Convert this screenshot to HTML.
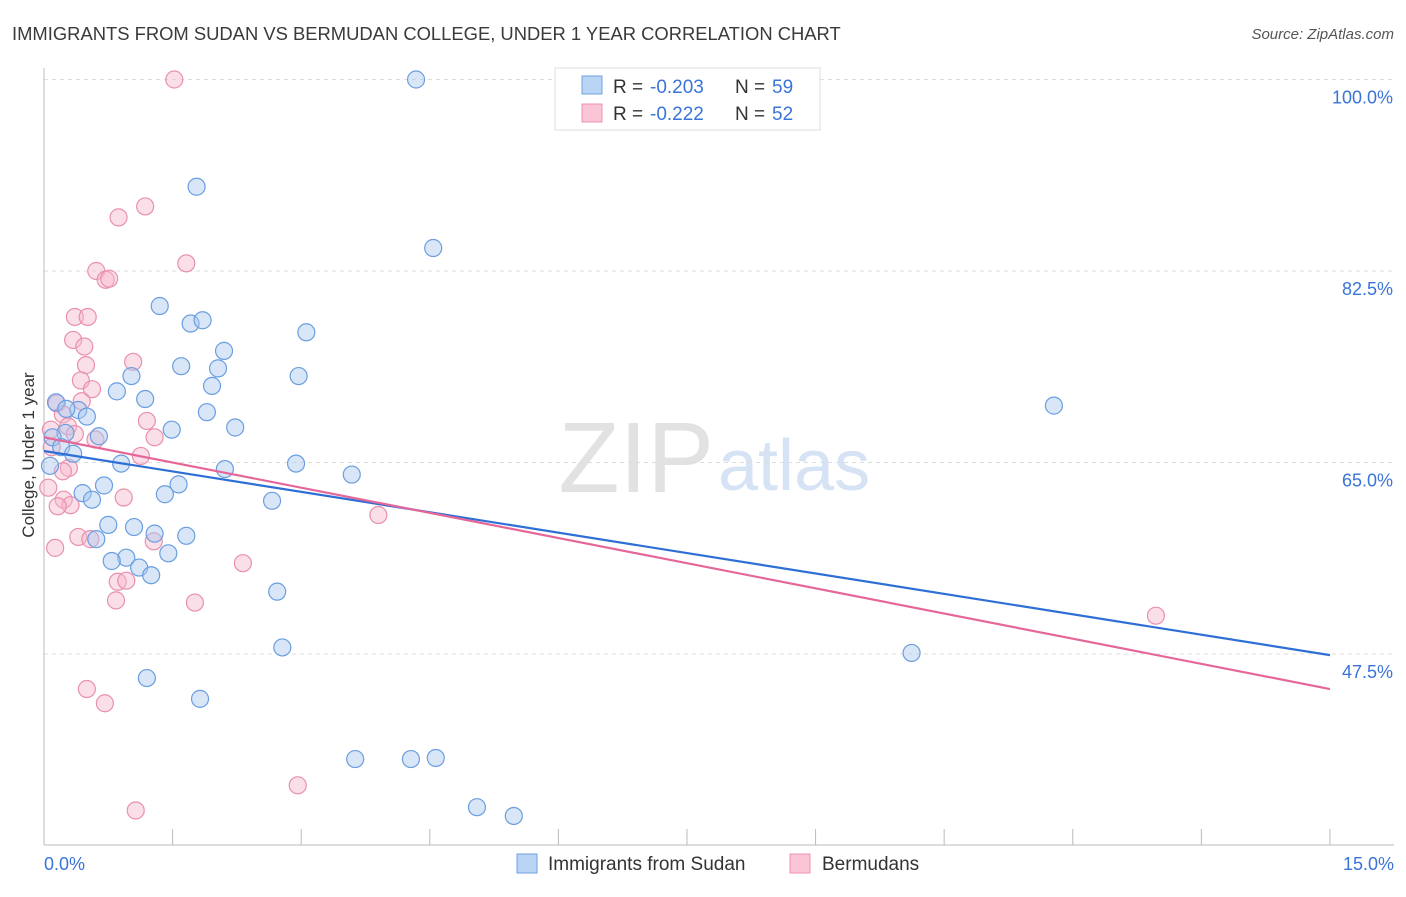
<!DOCTYPE html>
<html><head><meta charset="utf-8"><style>
body{margin:0;background:#fff;font-family:"Liberation Sans",sans-serif;}
svg text{font-family:"Liberation Sans",sans-serif;}
</style></head><body>
<svg id="chart" width="1406" height="892">
<text x="12" y="40" font-size="18.4" fill="#3a3a3a">IMMIGRANTS FROM SUDAN VS BERMUDAN COLLEGE, UNDER 1 YEAR CORRELATION CHART</text>
<text x="1394" y="39" font-size="15" fill="#555" text-anchor="end" font-style="italic">Source: ZipAtlas.com</text>
<text x="714" y="492" font-size="100" fill="#e2e2e2" text-anchor="end" font-family="Liberation Serif">ZIP</text>
<text x="718" y="490" font-size="72" fill="#d6e3f5">atlas</text>
<g id="grid"></g><g id="pts"></g><g id="lines"></g>
<text transform="translate(34,455) rotate(-90)" font-size="17" fill="#333" text-anchor="middle">College, Under 1 year</text>
<g>
<rect x="555" y="68" width="265" height="62" fill="#fff" stroke="#ddd"/>
<rect x="582" y="76" width="20" height="18" fill="#b9d4f5" stroke="#6fa0e0"/>
<rect x="582" y="104" width="20" height="18" fill="#fac6d6" stroke="#ee90b0"/>
<text x="613" y="93" font-size="19" fill="#333">R =</text>
<text x="650" y="93" font-size="19" fill="#3a74d8">-0.203</text>
<text x="735" y="93" font-size="19" fill="#333">N =</text>
<text x="772" y="93" font-size="19" fill="#3a74d8">59</text>
<text x="613" y="120" font-size="19" fill="#333">R =</text>
<text x="650" y="120" font-size="19" fill="#3a74d8">-0.222</text>
<text x="735" y="120" font-size="19" fill="#333">N =</text>
<text x="772" y="120" font-size="19" fill="#3a74d8">52</text>
</g>
<g>
<rect x="517" y="854" width="20" height="19" fill="#b9d4f5" stroke="#6fa0e0"/>
<text x="548" y="870" font-size="19" fill="#333">Immigrants from Sudan</text>
<rect x="790" y="854" width="20" height="19" fill="#fac6d6" stroke="#ee90b0"/>
<text x="822" y="870" font-size="19" fill="#333">Bermudans</text>
</g>
</svg>
<script>
const yTicks=[100,82.5,65,47.5];
const xTickLabels=["0.0%","15.0%"];
const blueX=[4.34,1.78,4.54,1.35,1.71,1.85,3.06,2.10,1.60,2.03,1.02,2.97,1.96,0.85,1.18,0.14,0.40,0.26,1.90,0.50,11.78,1.49,2.23,0.25,0.64,0.10,0.20,0.34,0.90,2.94,2.11,3.59,1.57,0.70,0.45,1.41,0.56,2.66,0.75,1.05,0.61,1.29,1.66,1.45,0.96,0.79,1.11,1.25,2.72,10.12,2.78,1.20,1.82,3.63,4.28,4.57,5.05,5.48,0.07];
const blueY=[100,90.2,84.6,79.3,77.7,78.0,76.9,75.2,73.8,73.6,72.9,72.9,72.0,71.5,70.8,70.5,69.8,69.9,69.6,69.2,70.2,68.0,68.2,67.7,67.4,67.3,66.4,65.8,64.9,64.9,64.4,63.9,63.0,62.9,62.2,62.1,61.6,61.5,59.3,59.1,58.0,58.5,58.3,56.7,56.3,56.0,55.4,54.7,53.2,47.6,48.1,45.3,43.4,37.9,37.9,38.0,33.5,32.7,64.7];
const pinkX=[1.52,1.18,0.87,1.66,0.61,0.72,0.76,0.36,0.51,0.34,0.47,1.04,0.49,0.43,0.56,0.44,0.15,0.22,1.20,0.28,1.29,0.36,0.60,0.08,0.09,1.13,0.29,0.22,0.05,0.23,0.93,0.31,0.16,3.90,0.40,0.54,1.28,0.13,2.32,0.86,0.96,0.84,1.76,12.97,0.50,0.71,2.96,1.07];
const pinkY=[100,88.4,87.4,83.2,82.5,81.7,81.8,78.3,78.3,76.2,75.6,74.2,73.9,72.5,71.7,70.6,70.4,69.4,68.8,68.3,67.3,67.6,67.1,68.0,66.4,65.6,64.5,64.2,62.7,61.6,61.8,61.1,61.0,60.2,58.2,58.0,57.8,57.2,55.8,54.1,54.2,52.4,52.2,51.0,44.3,43.0,35.5,33.2];
const blueTrend=[66.05,47.4];
const pinkTrend=[67.3,44.3];
const X=v=>44+v*85.73, Y=v=>79.5+(100-v)*10.943;
const NS="http://www.w3.org/2000/svg";
function mk(p,t,a){const e=document.createElementNS(NS,t);for(const k in a)e.setAttribute(k,a[k]);p.appendChild(e);return e;}
const g=document.getElementById('grid');
yTicks.forEach(t=>{
 const l=mk(g,'line',{x1:44,x2:1394,y1:Y(t),y2:Y(t),stroke:'#ddd','stroke-dasharray':'4,4'});
 
 
 const tx=mk(g,'text',{x:1393,y:Y(t)+24,'font-size':18,fill:'#3a74d8','text-anchor':'end'});
 tx.textContent=t.toFixed(1)+'%';
 
 
});
const ax=mk(g,'line',{x1:44,x2:44,y1:68,y2:845,stroke:'#bbb'});


const bx=mk(g,'line',{x1:44,x2:1394,y1:845,y2:845,stroke:'#bbb'});


for(let i=0;i<=10;i++){const tk=mk(g,'line',{x1:X(i*1.5),x2:X(i*1.5),y1:829,y2:845,stroke:'#bbb'});
 
 }
[[0,'start',44],[15,'end',1394]].forEach((d,i)=>{const t=mk(g,'text',{x:d[2],y:870,'font-size':18,fill:'#3a74d8','text-anchor':d[1]});t.textContent=xTickLabels[i];
 
 });
const pg=document.getElementById('pts');
function dots(xs,ys,fill,stroke,name){xs.forEach((x,i)=>{const c=mk(pg,'circle',{cx:X(x),cy:Y(ys[i]),r:8.5,fill:fill,stroke:stroke,'stroke-width':1.2,'fill-opacity':0.45});
 
 });}
dots(pinkX,pinkY,'#f7b9cc','#e890ad','bermudan-point');
dots(blueX,blueY,'#a9c8f0','#6a9ee0','sudan-point');
const lg=document.getElementById('lines');
const bl=mk(lg,'line',{x1:X(0),y1:Y(blueTrend[0]),x2:X(15),y2:Y(blueTrend[1]),stroke:'#2e6fd6','stroke-width':2.2});


const pl=mk(lg,'line',{x1:X(0),y1:Y(pinkTrend[0]),x2:X(15),y2:Y(pinkTrend[1]),stroke:'#e5679a','stroke-width':2.2});


</script>
</body></html>
